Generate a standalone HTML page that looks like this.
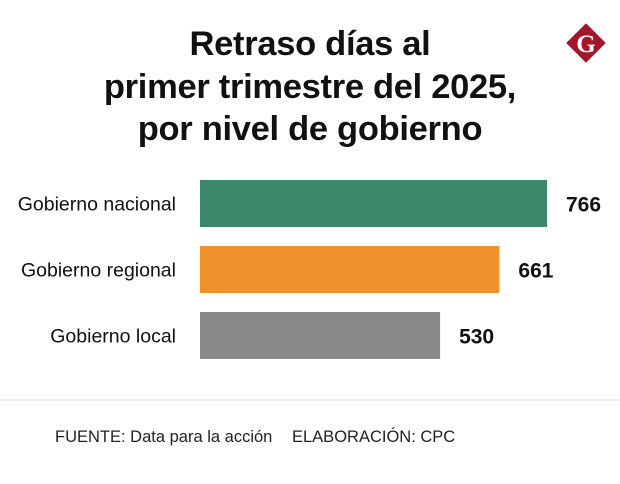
<!DOCTYPE html>
<html><head><meta charset="utf-8"><style>
body{margin:0;background:#fff;width:620px;height:479px;overflow:hidden;font-family:"Liberation Sans",sans-serif;}
</style></head><body>
<svg width="620" height="479" xmlns="http://www.w3.org/2000/svg">
<g font-weight="bold" font-size="34.5" text-anchor="middle" fill="#111" letter-spacing="-0.3">
<text x="310" y="55">Retraso días al</text>
<text x="310" y="98">primer trimestre del 2025,</text>
<text x="310" y="140">por nivel de gobierno</text>
</g>
<g>
<rect x="572" y="29" width="28" height="28" fill="#a3172a" transform="rotate(45 586 43)"/>
<text x="586" y="52" text-anchor="middle" font-family="Liberation Serif,serif" font-weight="bold" font-size="25" fill="#fff">G</text>
</g>
<g id="bars"></g>
<line x1="0" y1="400" x2="620" y2="400" stroke="#ddd" stroke-width="1"/>
<text x="55" y="442" font-size="16.5" fill="#222">FUENTE: Data para la acción</text>
<text x="292" y="442" font-size="16.5" fill="#222">ELABORACIÓN: CPC</text>
</svg>
<script>
const categories=["Gobierno nacional","Gobierno regional","Gobierno local"];
const values=[766,661,530];
const colors=["#3a8869","#f0922b","#888888"];
const x0=200, scale=347/766, y0=180, step=66, bh=47;
const xs=v=>v*scale;
const g=document.getElementById('bars');
const NS="http://www.w3.org/2000/svg";
categories.forEach((c,i)=>{
  const y=y0+i*step;
  const r=document.createElementNS(NS,'rect');
  r.setAttribute('x',x0);r.setAttribute('y',y);r.setAttribute('width',xs(values[i]));r.setAttribute('height',bh);r.setAttribute('fill',colors[i]);
  
  
  g.appendChild(r);
  const l=document.createElementNS(NS,'text');
  l.setAttribute('x',176);l.setAttribute('y',y+bh/2+7);l.setAttribute('text-anchor','end');l.setAttribute('font-size','19.5');l.setAttribute('fill','#111');
  l.textContent=c;
  
  
  g.appendChild(l);
  const v=document.createElementNS(NS,'text');
  v.setAttribute('x',x0+xs(values[i])+19);v.setAttribute('y',y+bh/2+8);v.setAttribute('font-size','21');v.setAttribute('font-weight','bold');v.setAttribute('fill','#111');
  v.textContent=values[i];
  
  
  g.appendChild(v);
});
</script>
</body></html>
